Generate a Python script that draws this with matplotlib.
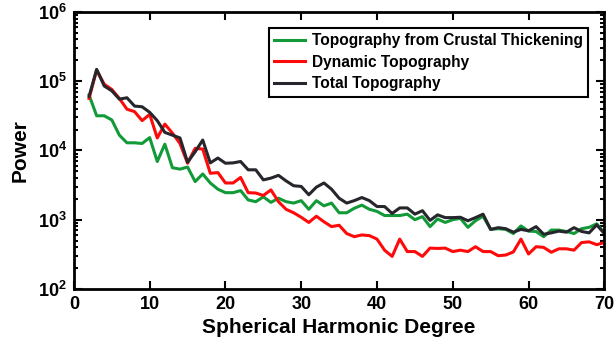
import numpy as np
import matplotlib
matplotlib.use('Agg')
import matplotlib.pyplot as plt
from matplotlib import ticker

plt.rcParams['font.family'] = ['Liberation Sans', 'DejaVu Sans']
plt.rcParams['font.weight'] = 'bold'
plt.rcParams['mathtext.fontset'] = 'custom'
plt.rcParams['mathtext.rm'] = 'Liberation Sans:bold'
plt.rcParams['mathtext.bf'] = 'Liberation Sans:bold'

# 球谐阶数 2..70，功率取 log10 读数
degree = np.arange(2, 71)
log_crust = [4.80, 4.50, 4.50, 4.44, 4.22, 4.11, 4.11, 4.10, 4.185, 3.84,
             4.09, 3.75, 3.73, 3.76, 3.55, 3.66, 3.53, 3.44, 3.39, 3.39,
             3.42, 3.285, 3.26, 3.33, 3.25, 3.31, 3.26, 3.24, 3.275, 3.15,
             3.275, 3.20, 3.24, 3.10, 3.10, 3.165, 3.21, 3.15, 3.12, 3.06,
             3.06, 3.06, 3.08, 3.00, 3.045, 2.90, 3.01, 2.96, 3.00, 3.02,
             2.89, 2.985, 3.05, 2.86, 2.87, 2.86, 2.80, 2.91, 2.835, 2.83,
             2.755, 2.85, 2.85, 2.83, 2.80, 2.87, 2.89, 2.94, 2.81]
log_dyn = [4.75, 5.16, 4.956, 4.88, 4.75, 4.595, 4.56, 4.43, 4.52, 4.18,
           4.38, 4.25, 4.10, 3.815, 4.03, 4.02, 3.67, 3.68, 3.53, 3.53,
           3.61, 3.39, 3.385, 3.35, 3.43, 3.26, 3.15, 3.10, 3.035, 2.96,
           3.05, 2.97, 2.90, 2.92, 2.80, 2.755, 2.78, 2.77, 2.72, 2.56,
           2.47, 2.72, 2.54, 2.54, 2.47, 2.59, 2.585, 2.59, 2.54, 2.56,
           2.54, 2.61, 2.54, 2.54, 2.48, 2.49, 2.535, 2.72, 2.505, 2.61,
           2.60, 2.53, 2.58, 2.58, 2.56, 2.67, 2.68, 2.64, 2.67]
log_total = [4.78, 5.17, 4.93, 4.86, 4.74, 4.76, 4.64, 4.63, 4.55, 4.43,
             4.26, 4.22, 4.18, 3.83, 3.98, 4.15, 3.82, 3.89, 3.815, 3.82,
             3.84, 3.72, 3.72, 3.575, 3.60, 3.64, 3.56, 3.49, 3.48, 3.36,
             3.47, 3.53, 3.44, 3.31, 3.24, 3.275, 3.32, 3.275, 3.19, 3.19,
             3.09, 3.17, 3.17, 3.08, 3.13, 2.99, 3.07, 3.03, 3.03, 3.035,
             2.985, 3.03, 3.08, 2.86, 2.885, 2.87, 2.82, 2.86, 2.84, 2.90,
             2.79, 2.81, 2.835, 2.82, 2.885, 2.83, 2.81, 2.925, 2.80]

labels = ['Topography from Crustal Thickening', 'Dynamic Topography', 'Total Topography']
colors = ['#129a38', '#ff0a0a', '#26262c']

fig = plt.figure(figsize=(6.16, 3.49), dpi=100)
ax = fig.add_axes([0.120, 0.172, 0.861, 0.794])

for vals, lab, c in zip([log_crust, log_dyn, log_total], labels, colors):
    ax.plot(degree, np.power(10.0, vals), color=c, lw=2.2, label=lab)

ax.set_yscale('log')
ax.set_xlim(0, 70)
ax.set_ylim(1e2, 1e6)
ax.set_xticks(np.arange(0, 71, 10))
ax.yaxis.set_major_formatter(ticker.FuncFormatter(lambda v, p: r'$\mathbf{10^{%d}}$' % round(np.log10(v))))
ax.yaxis.set_minor_locator(ticker.LogLocator(base=10, subs=np.arange(2, 10), numticks=20))
ax.yaxis.set_minor_formatter(ticker.NullFormatter())

ax.tick_params(which='both', direction='in', top=True, right=True, width=1.5)
ax.tick_params(which='major', length=6, labelsize=13, pad=5)
ax.tick_params(which='minor', length=3)
for s in ax.spines.values():
    s.set_linewidth(2)

ax.set_xlabel('Spherical Harmonic Degree', fontsize=15, fontweight='bold', labelpad=4)
ax.set_ylabel('Power', fontsize=15, fontweight='bold', labelpad=6)

leg = ax.legend(loc='upper right', bbox_to_anchor=(0.969, 0.942),
                prop={'weight': 'bold', 'size': 11.2}, fancybox=False, framealpha=1,
                handlelength=2.0, borderpad=0.35, labelspacing=0.42, handletextpad=0.4,
                borderaxespad=0)
leg.get_frame().set_edgecolor('black')
leg.get_frame().set_linewidth(1.5)

fig.savefig('out.png', dpi=100)
